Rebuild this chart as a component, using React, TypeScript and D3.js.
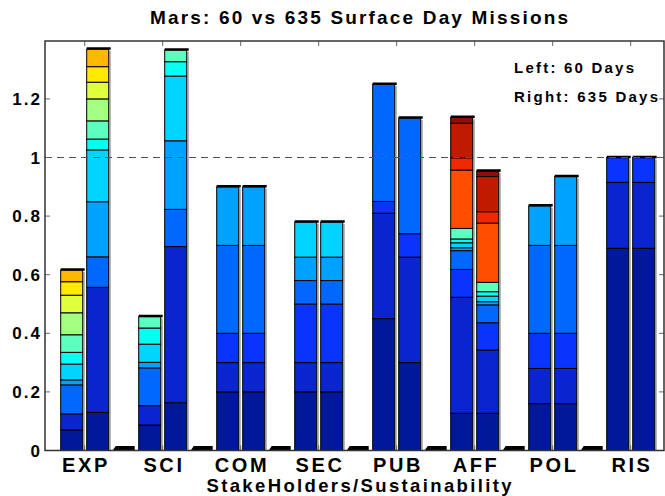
import React from 'react';
import * as d3 from 'd3';

// categories and the two mission lengths
const categories = ['EXP', 'SCI', 'COM', 'SEC', 'PUB', 'AFF', 'POL', 'RIS'];
const sides = ['60', '635', 'gap'];

// stacked layers, bottom to top (jet-like colour order)
const layers = ['L1', 'L2', 'L3', 'L4', 'L5', 'L6', 'L7', 'L8', 'L9', 'L10', 'L11', 'L12', 'L13', 'L14', 'L15', 'L16'];

// segment heights per layer, left bar = 60 days
const expLeft = [0.070, 0.055, 0, 0.099, 0.017, 0.054, 0.040, 0.060, 0.075, 0.060, 0.046, 0.040];
const sciLeft = [0.087, 0.066, 0, 0.129, 0.019, 0.062, 0.055, 0.039];
const comLeft = [0.2, 0.1, 0.1, 0.3, 0.2];
const secLeft = [0.2, 0.1, 0.2, 0.08, 0.08, 0.12];
const pubLeft = [0.45, 0.36, 0.04, 0.40];
const affLeft = [0.127, 0.396, 0.095, 0.064, 0.010, 0.017, 0.013, 0.036, 0, 0, 0, 0, 0.199, 0.042, 0.118, 0.020];
const polLeft = [0.16, 0.12, 0.12, 0.30, 0.135];
const risLeft = [0.69, 0.225, 0.085];

// right bar = 635 days
const expRight = [0.130, 0.427, 0, 0.104, 0.188, 0.177, 0.037, 0.062, 0.075, 0.057, 0.053, 0.060];
const sciRight = [0.163, 0.533, 0, 0.127, 0.234, 0.221, 0.049, 0.040];
const comRight = [0.2, 0.1, 0.1, 0.3, 0.2];
const secRight = [0.2, 0.1, 0.2, 0.08, 0.08, 0.12];
const pubRight = [0.30, 0.36, 0.08, 0.395];
const affRight = [0.127, 0.216, 0.093, 0.061, 0.011, 0.019, 0.015, 0.032, 0, 0, 0, 0, 0.202, 0.039, 0.120, 0.019];
const polRight = [0.16, 0.12, 0.12, 0.30, 0.235];
const risRight = [0.69, 0.225, 0.085];

// tiny third bar in each group
const gapBars = [0.015, 0.015, 0.015, 0.015, 0.015, 0.015, 0.015, 0];

const yTicks = [0, 0.2, 0.4, 0.6, 0.8, 1, 1.2];
const yTickLabels = ['0', '0.2', '0.4', '0.6', '0.8', '1', '1.2'];

const leftBars = [expLeft, sciLeft, comLeft, secLeft, pubLeft, affLeft, polLeft, risLeft];
const rightBars = [expRight, sciRight, comRight, secRight, pubRight, affRight, polRight, risRight];

const palette = [
  '#02189b', '#0a24cf', '#0a34fb', '#0068ff', '#00a2ff', '#00d4ff', '#06fff0', '#5cffc0',
  '#a2ff80', '#e0ff3c', '#ffea00', '#ffb800', '#ff4e00', '#f02800', '#c01a00', '#8c1008',
];

const font = '"Liberation Sans", Arial, Helvetica, sans-serif';

export default function App() {
  const width = 665;
  const height = 496;
  const plot = { left: 45, right: 664, top: 41, bottom: 450.5 };

  const x0 = d3.scaleBand().domain(categories).range([58.7, 58.7 + 78 * categories.length]);
  const x1 = d3.scaleBand().domain(sides).range([0, x0.bandwidth()]).paddingInner(4 / 26).paddingOuter(2 / 26);
  const y = d3.scaleLinear().domain([0, 1.4]).range([plot.bottom, plot.bottom - 1.4 * 293]);

  const rows: any[] = [];
  categories.forEach((c, i) => {
    [['60', leftBars[i]], ['635', rightBars[i]]].forEach(([side, vals]: any) => {
      const row: any = { cat: c, side };
      layers.forEach((k, j) => (row[k] = vals[j] || 0));
      rows.push(row);
    });
  });
  const stacked = d3.stack().keys(layers)(rows);

  const tickX = (c: string) =>
    (x0(c)! + x1('60')! + x1.bandwidth() + x0(c)! + x1('635')!) / 2;

  const bw = x1.bandwidth();

  return (
    <svg width={width} height={height} style={{ position: 'absolute', left: 0, top: 0, background: '#fff' }}
      fontFamily={font} fontWeight="bold">
      <defs>
        <clipPath id="plotClip">
          <rect x={plot.left} y={plot.top} width={plot.right - plot.left} height={plot.bottom - plot.top + 2} />
        </clipPath>
      </defs>

      <g clipPath="url(#plotClip)">
        {/* bar segments */}
        {stacked.map((layer, li) =>
          layer.map((d: any, ri) => {
            const h = d[1] - d[0];
            if (h <= 0) return null;
            const row = rows[ri];
            const bx = x0(row.cat)! + x1(row.side)!;
            return (
              <rect key={`${li}-${ri}`} x={bx} y={y(d[1])} width={bw} height={y(d[0]) - y(d[1])}
                fill={palette[li]} stroke="#000" strokeWidth={1} />
            );
          })
        )}
        {/* side shadow and top cap */}
        {rows.map((row, ri) => {
          const total = stacked[stacked.length - 1][ri][1];
          const bx = x0(row.cat)! + x1(row.side)!;
          return (
            <g key={`cap-${ri}`}>
              <line x1={bx + bw + 1.2} x2={bx + bw + 1.2} y1={y(total) + 2} y2={plot.bottom}
                stroke="#8a8a8a" strokeWidth={1.4} />
              <line x1={bx} x2={bx + bw + 2} y1={y(total) - 0.5} y2={y(total) - 0.5} stroke="#000" strokeWidth={2.5} />
            </g>
          );
        })}
        {/* small third bars */}
        {categories.map((c, i) => {
          if (!gapBars[i]) return null;
          const bx = x0(c)! + x1('gap')!;
          const top = y(gapBars[i]);
          return (
            <path key={`gap-${c}`} fill="#000"
              d={`M${bx},${plot.bottom} L${bx + 3},${top} L${bx + bw},${top} L${bx + bw},${plot.bottom} Z`} />
          );
        })}
      </g>

      {/* reference line at 1 */}
      <line x1={plot.left} x2={plot.right} y1={y(1)} y2={y(1)} stroke="#555" strokeWidth={1.2} strokeDasharray="7,5" />

      {/* ticks */}
      {yTicks.map((t) => (
        <g key={`yt-${t}`}>
          <line x1={plot.left} x2={plot.left + 5} y1={y(t)} y2={y(t)} stroke="#666" strokeWidth={1} />
          <line x1={plot.right - 5} x2={plot.right} y1={y(t)} y2={y(t)} stroke="#666" strokeWidth={1} />
        </g>
      ))}
      {categories.map((c) => (
        <g key={`xt-${c}`}>
          <line x1={tickX(c)} x2={tickX(c)} y1={plot.top} y2={plot.top + 5} stroke="#666" strokeWidth={1} />
          <line x1={tickX(c)} x2={tickX(c)} y1={plot.bottom - 5} y2={plot.bottom} stroke="#666" strokeWidth={1} />
        </g>
      ))}

      {/* axes box */}
      <rect x={plot.left} y={plot.top} width={plot.right - plot.left} height={plot.bottom - plot.top}
        fill="none" stroke="#333" strokeWidth={1.5} />

      {/* y tick labels */}
      {yTicks.map((t, i) => (
        <text key={`yl-${t}`} x={40 + 2} y={y(t) + 6} textAnchor="end" fontSize={17} letterSpacing={2} fill="#000">
          {yTickLabels[i]}
        </text>
      ))}

      {/* category labels */}
      {categories.map((c) => (
        <text key={`xl-${c}`} x={tickX(c) + 1.3} y={472} textAnchor="middle" fontSize={20} letterSpacing={2.6} fill="#000">
          {c}
        </text>
      ))}

      <text x={359} y={492} textAnchor="middle" fontSize={18.5} textLength={305} lengthAdjust="spacing" fill="#000">
        StakeHolders/Sustainability
      </text>

      <text x={359} y={24} textAnchor="middle" fontSize={19} textLength={418} lengthAdjust="spacing" fill="#000">
        Mars: 60 vs 635 Surface Day Missions
      </text>

      <text x={514} y={73} fontSize={15} textLength={120} lengthAdjust="spacing" fill="#000">Left: 60 Days</text>
      <text x={514} y={102} fontSize={15} textLength={144} lengthAdjust="spacing" fill="#000">Right: 635 Days</text>
    </svg>
  );
}
